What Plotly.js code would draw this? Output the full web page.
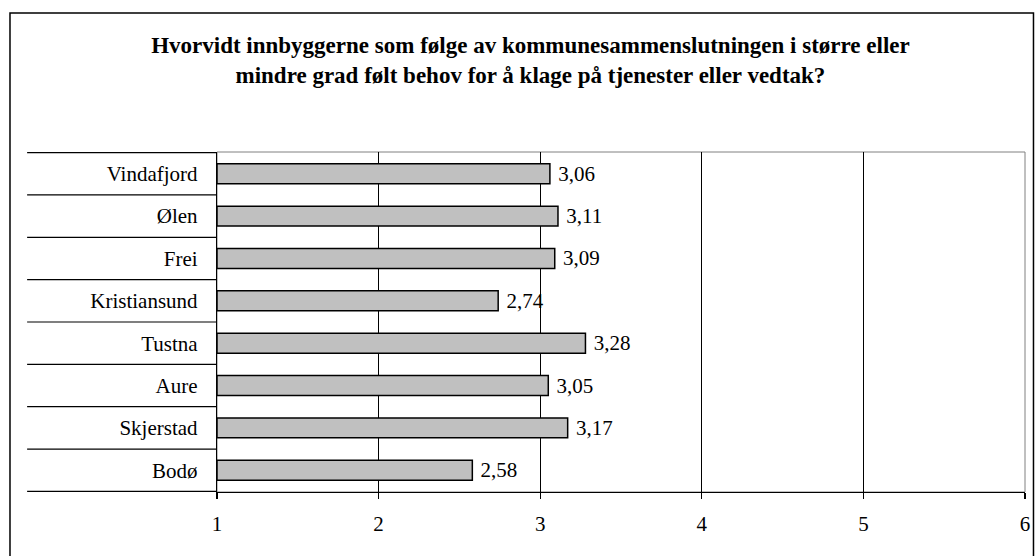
<!DOCTYPE html>
<html>
<head>
<meta charset="utf-8">
<script src="https://cdn.plot.ly/plotly-3.0.1.min.js"></script>
<style>
html,body{margin:0;padding:0;background:#fff;}
#chart{width:1036px;height:556px;}
</style>
</head>
<body>
<div id="chart"></div>
<script>
const categories = ["Vindafjord", "Ølen", "Frei", "Kristiansund", "Tustna", "Aure", "Skjerstad", "Bodø"];
const values = [3.06, 3.11, 3.09, 2.74, 3.28, 3.05, 3.17, 2.58];
const tickValues = [1, 2, 3, 4, 5, 6];
const titleText = "Hvorvidt innbyggerne som følge av kommunesammenslutningen i større eller<br>mindre grad følt behov for å klage på tjenester eller vedtak?";

const serif = "Liberation Serif";

const trace = {
  type: "bar",
  orientation: "h",
  y: categories,
  x: values.map(v => v - 1),
  base: 1,
  width: 0.47,
  marker: {color: "#c0c0c0", line: {color: "#000", width: 1.5}},
  texttemplate: values.map(v => " " + v.toFixed(2).replace(".", ",")),
  textposition: "outside",
  cliponaxis: false,
  constraintext: "none",
  textfont: {family: serif, size: 21, color: "#000"},
  hoverinfo: "skip"
};

const shapes = [];
shapes.push({type: "rect", xref: "paper", yref: "paper", x0: -0.2562, x1: 1.0105, y0: -0.25, y1: 1.4088,
  line: {color: "#000", width: 1.5}, fillcolor: "rgba(0,0,0,0)", layer: "below"});
shapes.push({type: "rect", xref: "paper", yref: "paper", x0: 0, x1: 1, y0: 0, y1: 1,
  line: {color: "#808080", width: 1}, fillcolor: "rgba(0,0,0,0)", layer: "below"});
for (let i = 0; i <= categories.length; i++) {
  shapes.push({type: "line", xref: "paper", yref: "y", x0: -0.235, x1: 0, y0: i - 0.5, y1: i - 0.5,
    line: {color: "#000", width: 1.2}});
}

const layout = {
  width: 1036, height: 556,
  margin: {l: 217, r: 11, t: 152, b: 64},
  paper_bgcolor: "#fff", plot_bgcolor: "#fff",
  showlegend: false,
  font: {family: serif},
  title: {text: titleText, font: {family: serif, size: 23, color: "#000", weight: "bold"},
    x: 0.512, xanchor: "center", y: 0.905, yanchor: "middle"},
  xaxis: {range: [1, 6], tickvals: tickValues, ticktext: tickValues.map(String),
    showgrid: true, gridcolor: "#000", gridwidth: 1, zeroline: false,
    showline: true, linecolor: "#000", linewidth: 1.2,
    ticks: "outside", ticklen: 6, tickcolor: "#000", tickwidth: 1.2,
    ticklabelstandoff: 7,
    tickfont: {family: serif, size: 21, color: "#000"}, fixedrange: true},
  yaxis: {type: "category", autorange: "reversed", showgrid: false, zeroline: false,
    showline: true, linecolor: "#000", linewidth: 1.2, ticks: "",
    ticklabelstandoff: 14,
    tickfont: {family: serif, size: 21, color: "#000"}, fixedrange: true},
  shapes: shapes
};

Plotly.newPlot("chart", [trace], layout, {displayModeBar: false, staticPlot: true});
</script>
</body>
</html>
